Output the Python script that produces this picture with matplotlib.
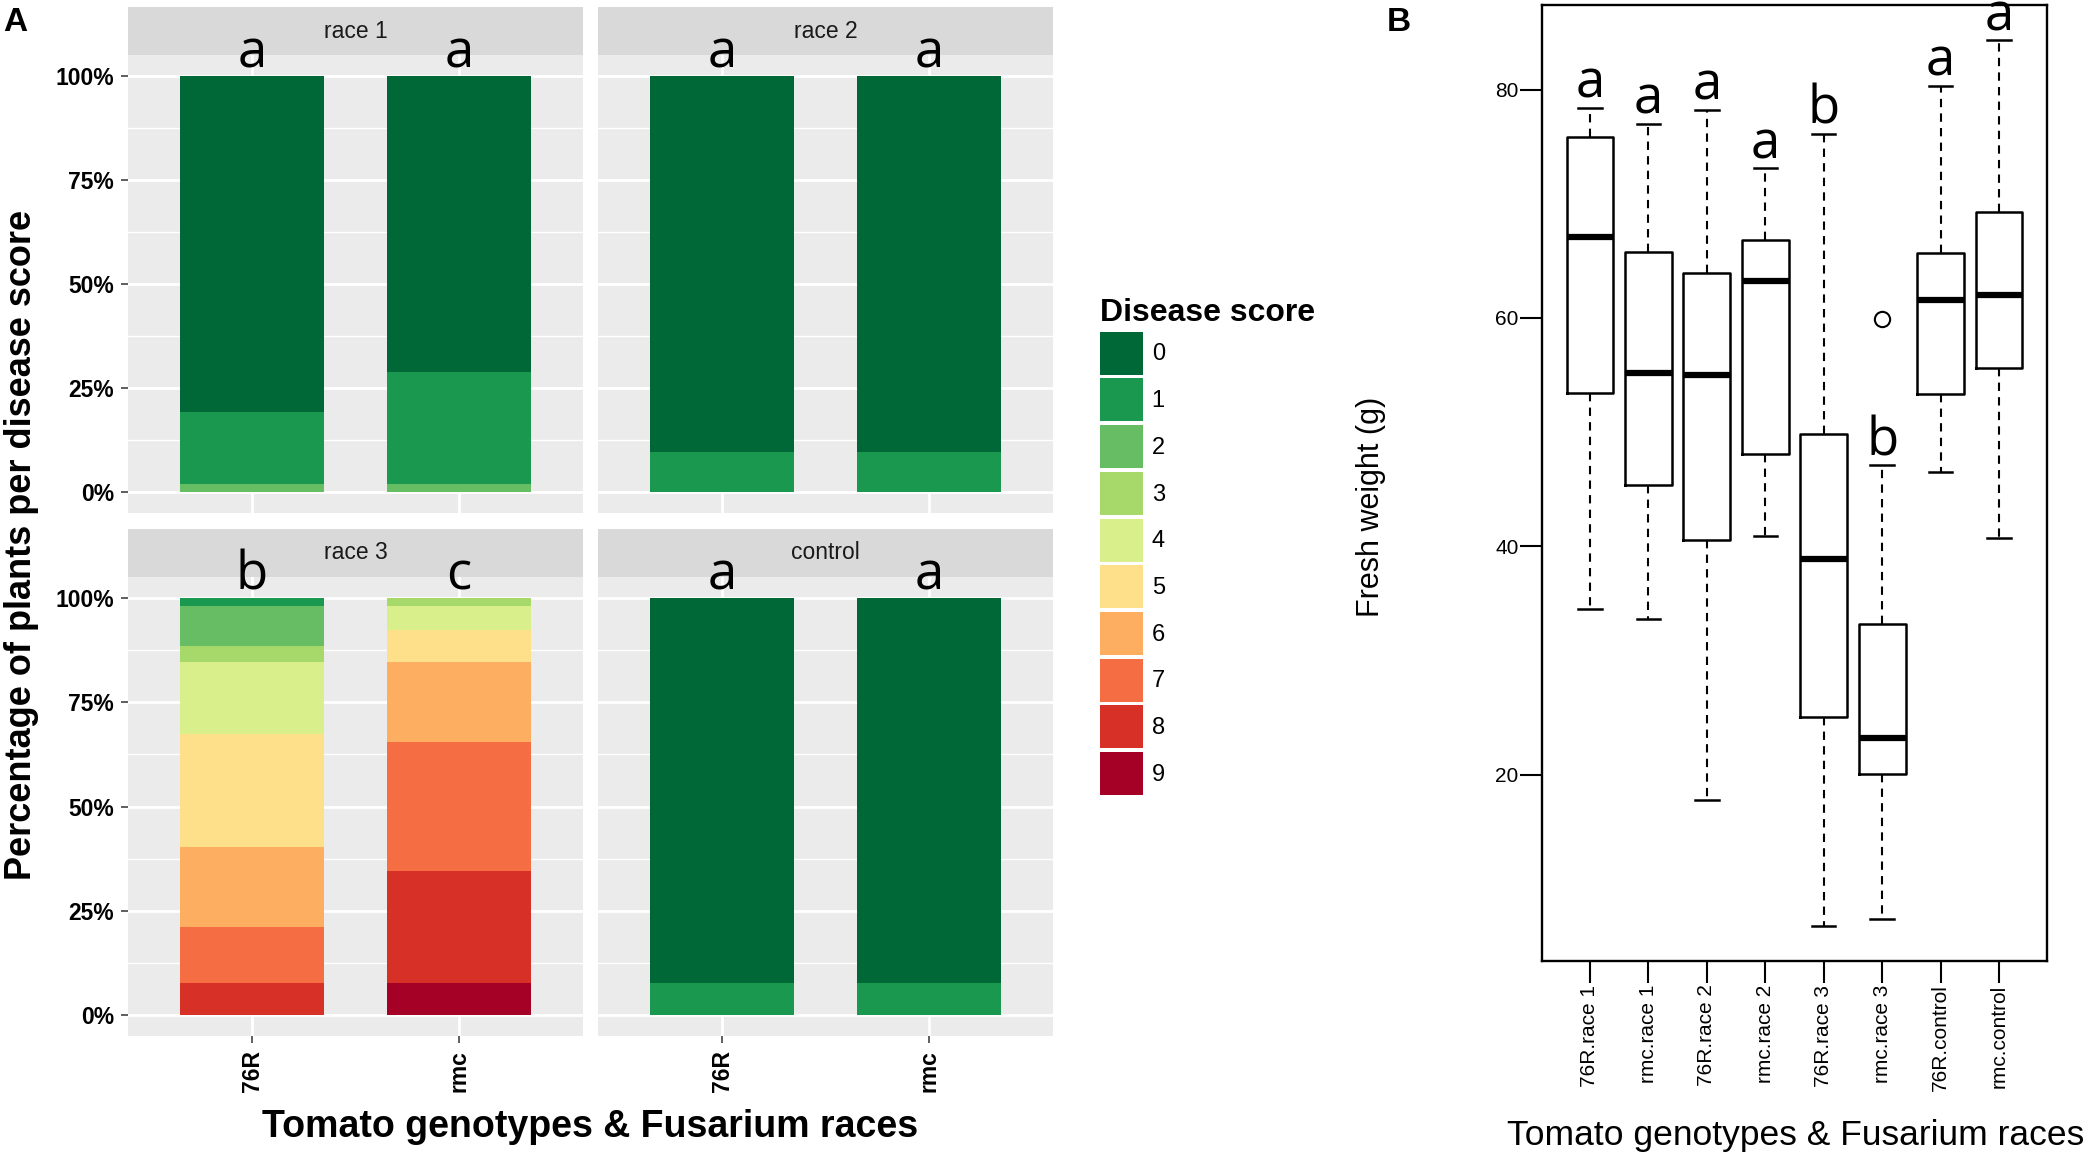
import matplotlib
matplotlib.use("Agg")
import matplotlib.pyplot as plt
from matplotlib.patches import Patch, Rectangle

plt.rcParams['font.family'] = ['Liberation Sans', 'DejaVu Sans']

# ---------------- data: panel A (percentage of plants per disease score 0..9)
genotypes = ['76R', 'rmc']
races = ['race 1', 'race 2', 'race 3', 'control']
scores = [0, 1, 2, 3, 4, 5, 6, 7, 8, 9]
score_colors = ['#006837', '#1a9850', '#66bd63', '#a6d96a', '#d9ef8b',
                '#fee08b', '#fdae61', '#f46d43', '#d73027', '#a50026']

race1_76R = [80.8, 17.3, 1.9, 0, 0, 0, 0, 0, 0, 0]
race1_rmc = [71.2, 26.9, 1.9, 0, 0, 0, 0, 0, 0, 0]
race2_76R = [90.4, 9.6, 0, 0, 0, 0, 0, 0, 0, 0]
race2_rmc = [90.4, 9.6, 0, 0, 0, 0, 0, 0, 0, 0]
race3_76R = [0, 1.9, 9.6, 3.8, 17.3, 26.9, 19.2, 13.5, 7.7, 0]
race3_rmc = [0, 0, 0, 1.9, 5.8, 7.7, 19.2, 30.8, 26.9, 7.7]
control_76R = [92.3, 7.7, 0, 0, 0, 0, 0, 0, 0, 0]
control_rmc = [92.3, 7.7, 0, 0, 0, 0, 0, 0, 0, 0]

pct = {
    'race 1': [race1_76R, race1_rmc],
    'race 2': [race2_76R, race2_rmc],
    'race 3': [race3_76R, race3_rmc],
    'control': [control_76R, control_rmc],
}
letters_A = {'race 1': ['a', 'a'], 'race 2': ['a', 'a'],
             'race 3': ['b', 'c'], 'control': ['a', 'a']}

# ---------------- data: panel B (fresh weight boxplots)
groups_B = ['76R.race 1', 'rmc.race 1', '76R.race 2', 'rmc.race 2',
            '76R.race 3', 'rmc.race 3', '76R.control', 'rmc.control']
whisk_lo = [34.5, 33.6, 17.8, 40.9, 6.8, 7.4, 46.5, 40.7]
q1 = [53.4, 45.4, 40.6, 48.1, 25.1, 20.1, 53.3, 55.6]
med = [67.1, 55.2, 55.0, 63.2, 38.9, 23.2, 61.6, 62.0]
q3 = [75.8, 65.8, 63.9, 66.8, 49.8, 33.2, 65.7, 69.3]
whisk_hi = [78.4, 77.0, 78.2, 73.1, 76.1, 47.1, 80.3, 84.3]
outliers = [[], [], [], [], [], [59.9], [], []]
letters_B = ['a', 'a', 'a', 'a', 'b', 'b', 'a', 'a']

W, H = 2091, 1158
fig = plt.figure(figsize=(W / 100, H / 100), dpi=100)


def box(x0, y0, x1, y1):
    # pixel box (top-left origin) -> figure fraction rect
    return [x0 / W, 1 - y1 / H, (x1 - x0) / W, (y1 - y0) / H]


letter_font = ['Open Sans', 'DejaVu Sans']

# ---------------- panel A
col_x = [(128, 583), (598, 1053)]
row_y = [(55, 513), (577, 1036)]
strip_h = 48

for k, race in enumerate(races):
    r, c = divmod(k, 2)
    x0, x1 = col_x[c]
    y0, y1 = row_y[r]
    ax = fig.add_axes(box(x0, y0, x1, y1))
    ax.set_facecolor('#EBEBEB')
    for s in ax.spines.values():
        s.set_visible(False)
    ax.set_xlim(0.4, 2.6)
    ax.set_ylim(-0.05, 1.05)
    ax.set_yticks([0, 0.25, 0.5, 0.75, 1.0])
    ax.set_yticks([0.125, 0.375, 0.625, 0.875], minor=True)
    ax.set_xticks([1, 2])
    ax.grid(which='major', color='white', lw=2.0)
    ax.grid(which='minor', axis='y', color='white', lw=1.0)
    ax.set_axisbelow(True)
    ax.tick_params(which='major', length=5, width=1.1, color='#333333',
                   labelsize=16.5, pad=5, labelcolor='black')
    ax.tick_params(which='minor', length=0)

    for g, geno in enumerate(genotypes):
        vals = pct[race][g]
        bottom = 0.0
        for s in reversed(scores):
            v = vals[s] / 100.0
            if v > 0:
                ax.bar(g + 1, v, bottom=bottom, width=0.7,
                       color=score_colors[s], linewidth=0)
            bottom += v
        ax.text(g + 1, 1.02, letters_A[race][g], ha='center', va='baseline',
                fontsize=38, family=letter_font, clip_on=False, zorder=6)

    sh = strip_h / (y1 - y0)
    ax.add_patch(Rectangle((0, 1), 1, sh, transform=ax.transAxes,
                           facecolor='#D9D9D9', edgecolor='none',
                           clip_on=False, zorder=2))
    ax.text(0.5, 1 + sh / 2, race, transform=ax.transAxes, ha='center',
            va='center', fontsize=16.5, color='#1A1A1A', zorder=3)

    if c == 0:
        ax.set_yticklabels(['0%', '25%', '50%', '75%', '100%'],
                           fontweight='bold')
    else:
        ax.tick_params(axis='y', which='both', left=False, labelleft=False)
    if r == 1:
        ax.set_xticklabels(genotypes, fontweight='bold', rotation=90,
                           va='top', ha='center')
    else:
        ax.tick_params(axis='x', which='both', bottom=False,
                       labelbottom=False)

fig.text(22 / W, 1 - 545 / H, 'Percentage of plants per disease score',
         rotation=90, ha='center', va='center', fontsize=26,
         fontweight='bold')
fig.text(590 / W, 1 - 1137 / H, 'Tomato genotypes & Fusarium races',
         ha='center', va='baseline', fontsize=27, fontweight='bold')
fig.text(3 / W, 1 - 7 / H, 'A', ha='left', va='top', fontsize=24,
         fontweight='bold')

handles = [Patch(facecolor=score_colors[s], edgecolor='none', label=str(s))
           for s in scores]
fig.legend(handles=handles, loc='upper left',
           bbox_to_anchor=(1100 / W, 1 - 298 / H), frameon=False,
           title='Disease score',
           title_fontproperties={'weight': 'bold', 'size': 23},
           fontsize=17, handlelength=1.82, handleheight=2.42,
           labelspacing=0.16, handletextpad=0.37, borderpad=0,
           borderaxespad=0, alignment='left')

# ---------------- panel B
axb = fig.add_axes(box(1542, 5, 2047, 961))
stats = []
for i, name in enumerate(groups_B):
    stats.append(dict(label=name, whislo=whisk_lo[i], q1=q1[i], med=med[i],
                      q3=q3[i], whishi=whisk_hi[i], fliers=outliers[i]))
pos = list(range(1, len(groups_B) + 1))
axb.bxp(stats, positions=pos, widths=0.8, capwidths=0.4,
        boxprops=dict(color='black', lw=1.8),
        medianprops=dict(color='black', lw=4.5, solid_capstyle='butt'),
        whiskerprops=dict(color='black', lw=1.5, linestyle=(0, (4, 3))),
        capprops=dict(color='black', lw=1.8),
        flierprops=dict(marker='o', markerfacecolor='none',
                        markeredgecolor='black', markersize=11, mew=1.5))
for i, lt in enumerate(letters_B):
    axb.text(pos[i], whisk_hi[i] + 0.9, lt, ha='center', va='baseline',
             fontsize=38, family=letter_font, clip_on=False)

lo = min(whisk_lo + [v for o in outliers for v in o])
hi = max(whisk_hi + [v for o in outliers for v in o])
rng = hi - lo
axb.set_ylim(lo - 0.04 * rng, hi + 0.04 * rng)
axb.set_xlim(0.5 - 0.04 * 8, 8.5 + 0.04 * 8)
axb.set_yticks([20, 40, 60, 80])
axb.set_xticks(pos)
axb.set_xticklabels(groups_B, rotation=90, va='top', ha='center')
for s in axb.spines.values():
    s.set_linewidth(1.7)
axb.tick_params(length=16, width=1.5, labelsize=15, pad=1)

fig.text(1371 / W, 1 - 507 / H, 'Fresh weight (g)', rotation=90,
         ha='center', va='center', fontsize=22)
fig.text(1796 / W, 1 - 1145 / H, 'Tomato genotypes & Fusarium races',
         ha='center', va='baseline', fontsize=25.5)
fig.text(1387 / W, 1 - 7 / H, 'B', ha='left', va='top', fontsize=24,
         fontweight='bold')

fig.savefig('out.png', dpi=100)
